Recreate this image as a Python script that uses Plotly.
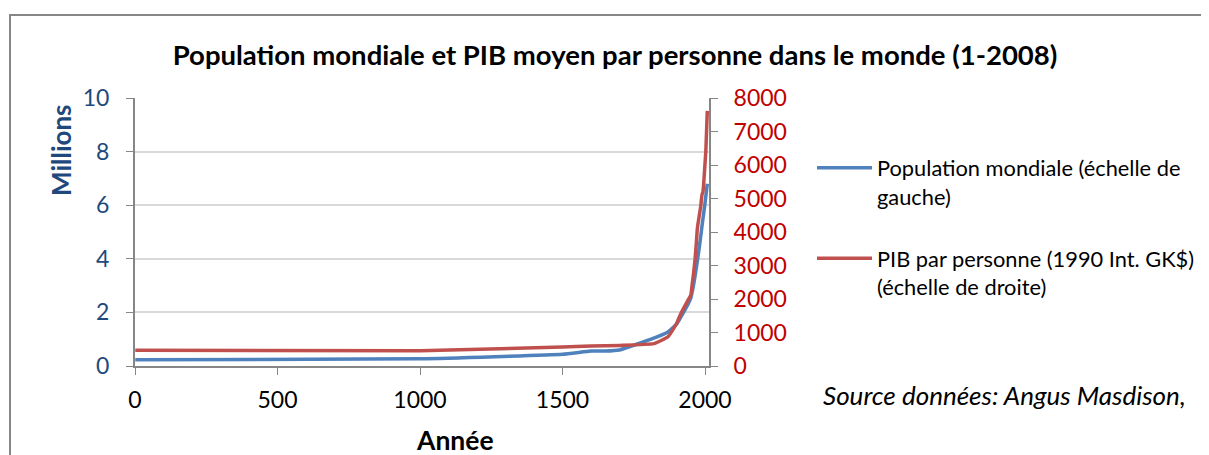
import plotly.graph_objects as go

# Angus Maddison data
pop_years = [1, 1000, 1500, 1600, 1650, 1700, 1820, 1870, 1900, 1913, 1940, 1950,
             1960, 1970, 1980, 1990, 2000, 2008]
population = [0.23, 0.27, 0.44, 0.56, 0.56, 0.60, 1.04, 1.27, 1.56, 1.79, 2.30, 2.53,
              3.03, 3.69, 4.43, 5.27, 6.07, 6.80]

gdp_years = [1, 1000, 1500, 1600, 1700, 1820, 1870, 1900, 1913, 1940, 1950, 1955,
             1960, 1965, 1970, 1973, 1980, 1985, 1990, 1992, 1995, 2000, 2003, 2008]
gdp_per_capita = [467, 453, 566, 596, 615, 667, 873, 1262, 1526, 1958, 2113, 2440,
                  2777, 3180, 3730, 4091, 4500, 4760, 5150, 5150, 5400, 6040, 6430, 7614]

x_ticks = [0, 500, 1000, 1500, 2000]

BLUE = "#4F81BD"
RED = "#C0504D"
AXIS_BLUE = "#1F497D"
AXIS_RED = "#C00000"
GRAY = "#868686"
FONT = "Lato"

W, H = 1209, 455
OFF = 8  # the page body margin shifts the figure by 8px


def px(x):
    return (x - OFF) / W


def py(y):
    return 1 - (y - OFF) / H


fig = go.Figure()
fig.add_trace(go.Scatter(
    x=pop_years, y=population, mode="lines", legendgroup="pop",
    name="Population mondiale (échelle de<br>gauche)",
    line=dict(color=BLUE, width=3.5, shape="spline", smoothing=0.4),
))
fig.add_trace(go.Scatter(
    x=gdp_years, y=gdp_per_capita, mode="lines", yaxis="y2", legendgroup="gdp",
    name="PIB par personne (1990 Int. GK$)<br>(échelle de droite)",
    line=dict(color=RED, width=3.5, shape="spline", smoothing=0.4),
))

fig.update_layout(
    width=W, height=H,
    margin=dict(l=0, r=0, t=0, b=0, autoexpand=False),
    paper_bgcolor="white", plot_bgcolor="white",
    font=dict(family=FONT, size=23, color="black"),
    title=dict(text="<b>Population mondiale et PIB moyen par personne dans le monde (1-2008)</b>",
               x=px(615), xanchor="center", y=py(55), yanchor="middle",
               font=dict(size=27.5, color="black"), automargin=False),
    xaxis=dict(domain=[px(135), px(709)], range=[0, 2014], tickvals=x_ticks, automargin=False,
               showgrid=False, zeroline=False,
               showline=True, linecolor=GRAY, linewidth=2,
               ticks="outside", ticklen=7, tickcolor=GRAY, ticklabelstandoff=5,
               tickfont=dict(size=23, color="black")),
    yaxis=dict(domain=[py(366), py(98)], range=[0, 10], dtick=2, automargin=False,
               showgrid=True, gridcolor="#D9D9D9", gridwidth=1.5, zeroline=False,
               showline=True, linecolor=GRAY, linewidth=2,
               ticks="outside", ticklen=7, tickcolor=GRAY, ticklabelstandoff=12,
               tickfont=dict(size=23, color=AXIS_BLUE)),
    yaxis2=dict(overlaying="y", side="right", anchor="x", range=[0, 8000], dtick=1000,
                automargin=False, showgrid=False, zeroline=False,
                showline=True, linecolor=GRAY, linewidth=2,
                ticks="outside", ticklen=7, tickcolor=GRAY, ticklabelstandoff=11,
                tickfont=dict(size=23, color=AXIS_RED)),
    legend=dict(x=px(812), y=py(147), xanchor="left", yanchor="top", valign="top",
                font=dict(size=21.8, color="black"), bgcolor="rgba(0,0,0,0)",
                tracegroupgap=31, itemwidth=55),
    showlegend=True,
)

fig.add_annotation(text="<b>Millions</b>", textangle=-90,
                   xref="paper", yref="paper", x=px(61), y=py(150),
                   xanchor="center", yanchor="middle", showarrow=False,
                   font=dict(size=26, color=AXIS_BLUE))
fig.add_annotation(text="<b>Année</b>",
                   xref="paper", yref="paper", x=px(455), y=py(440),
                   xanchor="center", yanchor="middle", showarrow=False,
                   font=dict(size=26.5, color="black"))
fig.add_annotation(text="<i>Source données: Angus Masdison,</i>",
                   xref="paper", yref="paper", x=px(821), y=py(395),
                   xanchor="left", yanchor="middle", showarrow=False,
                   font=dict(size=26, color="black"))

# chart border
fig.add_shape(type="rect", xref="paper", yref="paper",
              x0=px(10), x1=1.05, y0=-0.05, y1=py(15),
              line=dict(color=GRAY, width=2))

fig.write_html("out.html")
